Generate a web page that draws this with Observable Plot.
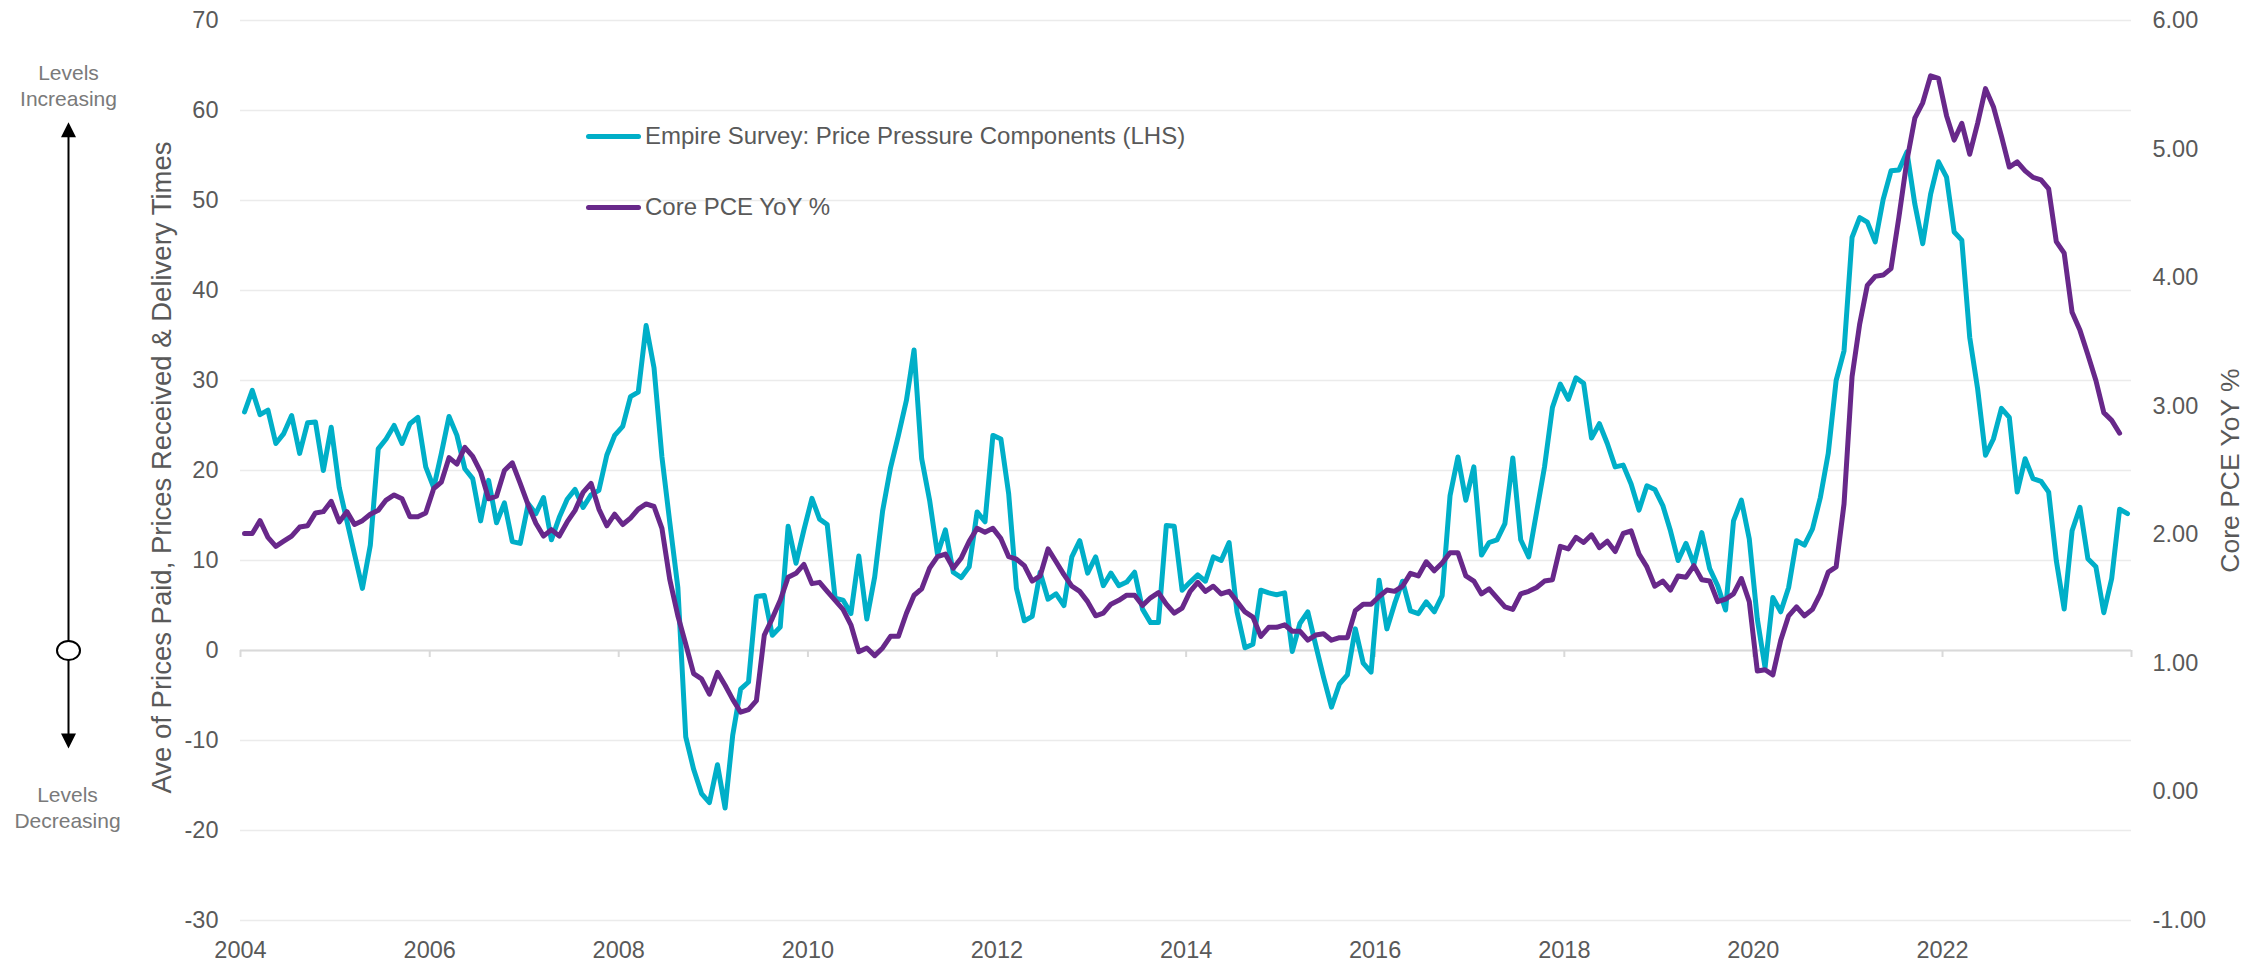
<!DOCTYPE html>
<html>
<head>
<meta charset="utf-8">
<script src="https://cdn.jsdelivr.net/npm/d3@7"></script>
<script src="https://cdn.jsdelivr.net/npm/@observablehq/plot@0.6"></script>
<style>
  html, body { margin: 0; padding: 0; background: #ffffff; }
  #wrap { position: relative; width: 2267px; height: 962px; font-family: "Liberation Sans", Arial, sans-serif; }
  .legend { position: absolute; left: 586px; height: 30px; line-height: 30px; color: #595959; font-size: 24px;
            display: flex; align-items: center; white-space: nowrap; }
  .legend .sw { display: inline-block; width: 55px; height: 5px; border-radius: 3px; margin-right: 4px; }
</style>
</head>
<body>
<div id="wrap"></div>
<script>
// ---------------- data ----------------
const firstMonth = "2004-01";
const lastMonth = "2023-12";

// Empire Survey: Price Pressure Components (LHS), monthly Jan 2004 – Dec 2023
const empire = [
  26.5, 28.9, 26.2, 26.7, 23.0, 24.1, 26.1, 21.9, 25.3, 25.4, 20.0, 24.8,
  18.1, 14.4, 10.7, 6.9, 11.7, 22.4, 23.5, 25.0, 23.0, 25.2, 25.9, 20.4,
  18.1, 21.9, 26.0, 23.9, 20.2, 19.1, 14.4, 18.9, 14.2, 16.4, 12.1, 11.9,
  16.3, 15.2, 17.0, 12.3, 14.8, 16.8, 17.9, 15.9, 17.3, 17.8, 21.7, 23.9,
  24.9, 28.2, 28.7, 36.1, 31.4, 21.5, 14.2, 7.0, -9.6, -13.2, -15.9, -16.9,
  -12.7, -17.5, -9.4, -4.3, -3.5, 6.0, 6.1, 1.7, 2.6, 13.8, 9.7, 13.4,
  16.9, 14.6, 14.0, 5.8, 5.6, 4.1, 10.5, 3.5, 8.2, 15.5, 20.3, 23.9,
  27.8, 33.4, 21.3, 16.7, 10.7, 13.4, 8.7, 8.1, 9.3, 15.4, 14.3, 23.9,
  23.5, 17.4, 6.9, 3.3, 3.8, 8.7, 5.7, 6.3, 5.0, 10.4, 12.2, 8.6,
  10.4, 7.2, 8.6, 7.2, 7.6, 8.7, 4.6, 3.1, 3.1, 13.9, 13.8, 6.7,
  7.6, 8.4, 7.7, 10.4, 10.0, 12.0, 4.3, 0.3, 0.7, 6.7, 6.4, 6.2,
  6.4, -0.1, 3.0, 4.3, 0.6, -3.0, -6.3, -3.7, -2.7, 2.4, -1.4, -2.4,
  7.8, 2.4, 5.2, 7.7, 4.4, 4.1, 5.4, 4.3, 6.1, 17.2, 21.5, 16.7,
  20.4, 10.6, 12.0, 12.3, 14.1, 21.4, 12.3, 10.4, 15.4, 20.4, 27.0, 29.6,
  27.9, 30.3, 29.7, 23.6, 25.2, 23.0, 20.4, 20.6, 18.5, 15.6, 18.3, 17.9,
  16.1, 13.3, 10.0, 11.9, 9.6, 13.1, 9.1, 7.2, 4.5, 14.4, 16.7, 12.4,
  3.5, -1.9, 5.9, 4.3, 7.0, 12.2, 11.7, 13.5, 17.0, 21.9, 30.0, 33.3,
  45.9, 48.1, 47.6, 45.4, 50.1, 53.3, 53.4, 55.4, 49.6, 45.2, 50.7, 54.3,
  52.6, 46.5, 45.6, 34.8, 29.1, 21.7, 23.5, 26.9, 25.9, 17.6, 21.3, 19.1,
  18.8, 17.6, 10.0, 4.6, 13.3, 15.9, 10.2, 9.3, 4.2, 8.0, 15.7, 15.2
];

// Core PCE YoY % (RHS), monthly Jan 2004 – Nov 2023
const corePce = [
  2.01, 2.01, 2.11, 1.98, 1.91, 1.95, 1.99, 2.06, 2.07, 2.17, 2.18, 2.26,
  2.10, 2.18, 2.08, 2.11, 2.16, 2.19, 2.27, 2.31, 2.28, 2.14, 2.14, 2.17,
  2.36, 2.41, 2.60, 2.55, 2.68, 2.61, 2.49, 2.28, 2.30, 2.50, 2.56, 2.40,
  2.23, 2.09, 1.99, 2.04, 1.99, 2.10, 2.19, 2.33, 2.40, 2.20, 2.07, 2.16,
  2.08, 2.13, 2.20, 2.24, 2.22, 2.05, 1.65, 1.37, 1.15, 0.92, 0.88, 0.76,
  0.93, 0.83, 0.72, 0.62, 0.64, 0.71, 1.22, 1.35, 1.49, 1.67, 1.70, 1.77,
  1.62, 1.63, 1.56, 1.49, 1.42, 1.30, 1.09, 1.12, 1.06, 1.12, 1.21, 1.21,
  1.39, 1.53, 1.58, 1.74, 1.83, 1.85, 1.74, 1.82, 1.95, 2.05, 2.02, 2.05,
  1.97, 1.83, 1.81, 1.76, 1.64, 1.68, 1.89, 1.79, 1.69, 1.60, 1.56, 1.48,
  1.37, 1.39, 1.46, 1.49, 1.53, 1.53, 1.45, 1.51, 1.55, 1.46, 1.39, 1.43,
  1.56, 1.63, 1.56, 1.60, 1.54, 1.56, 1.48, 1.40, 1.36, 1.21, 1.28, 1.28,
  1.30, 1.25, 1.25, 1.18, 1.22, 1.23, 1.18, 1.20, 1.20, 1.41, 1.46, 1.46,
  1.52, 1.57, 1.56, 1.60, 1.70, 1.68, 1.79, 1.72, 1.78, 1.86, 1.86, 1.68,
  1.64, 1.54, 1.58, 1.51, 1.44, 1.42, 1.54, 1.56, 1.59, 1.64, 1.65, 1.91,
  1.89, 1.98, 1.94, 2.00, 1.90, 1.95, 1.87, 2.01, 2.03, 1.85, 1.75, 1.60,
  1.64, 1.57, 1.68, 1.67, 1.76, 1.65, 1.64, 1.48, 1.50, 1.54, 1.66, 1.48,
  0.94, 0.95, 0.91, 1.18, 1.37, 1.44, 1.37, 1.42, 1.54, 1.71, 1.75, 2.24,
  3.23, 3.64, 3.94, 4.01, 4.02, 4.07, 4.47, 4.91, 5.24, 5.36, 5.57, 5.55,
  5.26, 5.07, 5.20, 4.96, 5.20, 5.47, 5.33, 5.10, 4.86, 4.90, 4.83, 4.78,
  4.76, 4.69, 4.28, 4.19, 3.73, 3.59, 3.40, 3.20, 2.95, 2.89, 2.79
];

const seriesNames = ["Empire Survey: Price Pressure Components (LHS)", "Core PCE YoY %"];
const seriesColors = ["#00afc8", "#68288a"];
const leftTicks = [-30, -20, -10, 0, 10, 20, 30, 40, 50, 60, 70];
const rightTicks = [-1, 0, 1, 2, 3, 4, 5, 6];
const yearTicks = ["2004", "2006", "2008", "2010", "2012", "2014", "2016", "2018", "2020", "2022"];
const axisEndYear = "2024";
const leftTitle = "Ave of Prices Paid, Prices Received & Delivery Times";
const rightTitle = "Core PCE YoY %";
const upNote = "Levels\nIncreasing";
const downNote = "Levels\nDecreasing";

// ---------------- build ----------------
const parseMonth = d3.utcParse("%Y-%m");
const parseYear = d3.utcParse("%Y");
const start = parseMonth(firstMonth);
const end = d3.utcMonth.offset(parseMonth(lastMonth), 1);
const months = d3.utcMonth.range(start, end);
const mid = d => new Date((+d + +d3.utcMonth.offset(d, 1)) / 2);

const leftDomain = [leftTicks[0], leftTicks[leftTicks.length - 1]];
const rightDomain = [rightTicks[0], rightTicks[rightTicks.length - 1]];
const toLeft = p => leftDomain[0] + (p - rightDomain[0]) * (leftDomain[1] - leftDomain[0]) / (rightDomain[1] - rightDomain[0]);
const toRight = v => rightDomain[0] + (v - leftDomain[0]) * (rightDomain[1] - rightDomain[0]) / (leftDomain[1] - leftDomain[0]);

const empireData = empire.map((v, i) => ({date: mid(months[i]), value: v}));
const pceData = corePce.map((v, i) => ({date: mid(months[i]), value: v}));
const yearDates = yearTicks.map(parseYear);
const tickDates = yearDates.concat([parseYear(axisEndYear)]);

// custom symbols for the left-hand annotation
const ellipse = {draw(ctx) {
  const rx = 11.5, ry = 9.5, k = 0.5523;
  ctx.moveTo(rx, 0);
  ctx.bezierCurveTo(rx, ry * k, rx * k, ry, 0, ry);
  ctx.bezierCurveTo(-rx * k, ry, -rx, ry * k, -rx, 0);
  ctx.bezierCurveTo(-rx, -ry * k, -rx * k, -ry, 0, -ry);
  ctx.bezierCurveTo(rx * k, -ry, rx, -ry * k, rx, 0);
  ctx.closePath();
}};
const headUp = {draw(ctx) { ctx.moveTo(0, 0); ctx.lineTo(7.5, 15); ctx.lineTo(-7.5, 15); ctx.closePath(); }};
const headDown = {draw(ctx) { ctx.moveTo(0, 0); ctx.lineTo(7.5, -15); ctx.lineTo(-7.5, -15); ctx.closePath(); }};
const arrowTop = 58.7, arrowBottom = -10.9, arrowZero = 0;
const noteDx = -172;
const hyphen = d => `${d}`;

const chart = Plot.plot({
  width: 2267,
  height: 962,
  marginLeft: 240,
  marginRight: 136,
  marginTop: 20,
  marginBottom: 42,
  style: {fontFamily: '"Liberation Sans", Arial, sans-serif', fontSize: "23.5px", color: "#595959", background: "#ffffff", overflow: "visible"},
  x: {type: "utc", domain: [start, end]},
  y: {domain: leftDomain},
  marks: [
    Plot.gridY(leftTicks, {stroke: "#ebebeb", strokeOpacity: 1, strokeWidth: 1.6}),
    Plot.ruleY([0], {stroke: "#d9d9d9", strokeWidth: 2}),
    Plot.ruleX(tickDates, {x: d => d, y1: 0, y2: 0, insetBottom: -7, stroke: "#d9d9d9", strokeWidth: 2}),
    Plot.axisX(yearDates, {anchor: "bottom", tickSize: 0, tickPadding: 21, tickFormat: d3.utcFormat("%Y"), label: null}),
    Plot.axisY(leftTicks, {anchor: "left", tickSize: 0, tickPadding: 22, label: null, tickFormat: hyphen}),
    Plot.axisY(rightTicks.map(toLeft), {anchor: "right", tickSize: 0, tickPadding: 21, label: null,
      tickFormat: v => toRight(v).toFixed(2)}),
    Plot.text([leftTitle], {text: d => d, frameAnchor: "left", dx: -78, dy: -3, rotate: -90, textAnchor: "middle", lineAnchor: "middle", fontSize: 27.5, fill: "#595959"}),
    Plot.text([rightTitle], {text: d => d, frameAnchor: "right", dx: 99, rotate: -90, textAnchor: "middle", lineAnchor: "middle", fontSize: 26.5, fill: "#595959"}),
    // annotation on the left
    Plot.ruleX([start], {x: d => d, y1: arrowBottom + 1, y2: arrowTop - 1, dx: noteDx, stroke: "#000000", strokeWidth: 2}),
    Plot.dot([arrowTop], {y: d => d, frameAnchor: "left", dx: noteDx, symbol: headUp, fill: "#000000", stroke: "none"}),
    Plot.dot([arrowBottom], {y: d => d, frameAnchor: "left", dx: noteDx, symbol: headDown, fill: "#000000", stroke: "none"}),
    Plot.dot([arrowZero], {y: d => d, frameAnchor: "left", dx: noteDx, symbol: ellipse, fill: "#ffffff", stroke: "#000000", strokeWidth: 2}),
    Plot.text([upNote], {text: d => d, frameAnchor: "top-left", dx: noteDx, dy: 64, textAnchor: "middle", lineAnchor: "middle", fontSize: 21, lineHeight: 1.24, fill: "#7a7a7a"}),
    Plot.text([downNote], {text: d => d, frameAnchor: "top-left", dx: noteDx - 1, dy: 786, textAnchor: "middle", lineAnchor: "middle", fontSize: 21, lineHeight: 1.24, fill: "#7a7a7a"}),
    // series
    Plot.line(empireData, {x: "date", y: "value", stroke: seriesColors[0], strokeWidth: 5, strokeLinejoin: "round", strokeLinecap: "round"}),
    Plot.line(pceData, {x: "date", y: d => toLeft(d.value), stroke: seriesColors[1], strokeWidth: 5, strokeLinejoin: "round", strokeLinecap: "round"})
  ]
});

const wrap = document.getElementById("wrap");
wrap.appendChild(chart);

// legend
const legendTops = [121, 192];
seriesNames.forEach((name, i) => {
  const row = document.createElement("div");
  row.className = "legend";
  row.style.top = legendTops[i] + "px";
  const sw = document.createElement("span");
  sw.className = "sw";
  sw.style.background = seriesColors[i];
  row.appendChild(sw);
  row.appendChild(document.createTextNode(name));
  wrap.appendChild(row);
});
</script>
</body>
</html>
